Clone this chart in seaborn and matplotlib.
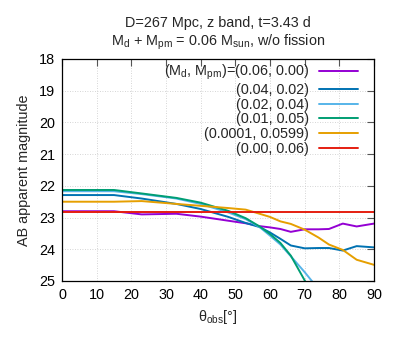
import numpy as np
import pandas as pd
import matplotlib
matplotlib.use("Agg")
import matplotlib.pyplot as plt
import seaborn as sns

# viewing angle grid [deg]
theta = [0, 15, 23, 33, 40, 48, 53, 57, 60, 63, 66, 70, 74, 77, 81, 85, 90]

# AB magnitudes (nan = off the plot)
mag_006_000 = [22.80, 22.80, 22.90, 22.88, 22.97, 23.10, 23.18, 23.27, 23.31,
               23.36, 23.45, 23.37, 23.37, 23.36, 23.19, 23.28, 23.19]
mag_004_002 = [22.29, 22.29, 22.40, 22.57, 22.73, 22.98, 23.17, 23.30, 23.47,
               23.67, 23.88, 23.97, 23.96, 23.96, 24.04, 23.90, 23.94]
mag_002_004 = [22.17, 22.17, 22.26, 22.40, 22.57, 22.84, 23.05, 23.30, 23.57,
               23.85, 24.22, 24.72, 25.26, np.nan, np.nan, np.nan, np.nan]
mag_001_005 = [22.13, 22.13, 22.24, 22.38, 22.53, 22.79, 23.02, 23.28, 23.52,
               23.80, 24.20, 24.98, 25.80, np.nan, np.nan, np.nan, np.nan]
mag_00001_00599 = [22.50, 22.50, 22.48, 22.57, 22.63, 22.70, 22.75, 22.88, 22.98,
                   23.12, 23.20, 23.38, 23.63, 23.85, 24.02, 24.33, 24.49]
mag_000_006 = [22.83] * len(theta)

labels = [r"(M$_\mathrm{d}$, M$_\mathrm{pm}$)=(0.06, 0.00)",
          "(0.04, 0.02)", "(0.02, 0.04)", "(0.01, 0.05)",
          "(0.0001, 0.0599)", "(0.00, 0.06)"]
colors = ["#9400d3", "#0072b2", "#56b4e9", "#009e73", "#e69f00", "#e51e10"]
series = [mag_006_000, mag_004_002, mag_002_004, mag_001_005,
          mag_00001_00599, mag_000_006]

FS = 10.4

sns.set_style("white")
plt.rcParams["font.family"] = ["Liberation Sans", "DejaVu Sans"]
plt.rcParams["mathtext.fontset"] = "custom"
plt.rcParams["mathtext.rm"] = "Liberation Sans"
plt.rcParams["mathtext.it"] = "Liberation Sans"
plt.rcParams["font.size"] = FS

fig = plt.figure(figsize=(3.99, 3.42), dpi=100)
ax = fig.add_axes([62 / 399, 1 - 281 / 342, 312 / 399, 222 / 342])

for lab, col, vals in zip(labels, colors, series):
    df = pd.DataFrame({"theta": theta, "mag": vals}).dropna()
    sns.lineplot(data=df, x="theta", y="mag", color=col, label=lab,
                 linewidth=1.4, ax=ax)

ax.set_xlim(0, 90)
ax.set_ylim(25, 18)
ax.set_xticks(range(0, 91, 10))
ax.set_yticks(range(18, 26))
ax.grid(True, color="#c8c8c8", linestyle=(0, (1, 2)), linewidth=0.6)
ax.tick_params(direction="in", length=5, width=0.8, top=True, right=True,
               labelsize=FS, colors="#555555", labelcolor="black", pad=5)
for s in ax.spines.values():
    s.set_color("black")
    s.set_linewidth(0.9)

ax.set_xlabel(r"θ$_\mathrm{obs}$[°]", fontsize=FS, labelpad=4)
ax.set_ylabel("AB apparent magnitude", fontsize=FS, labelpad=6)
ax.set_title("D=267 Mpc, z band, t=3.43 d\n"
             r"M$_\mathrm{d}$ + M$_\mathrm{pm}$ = 0.06 M$_\mathrm{sun}$, w/o fission",
             fontsize=FS, pad=10, linespacing=1.2)

leg = ax.legend(loc="upper right", bbox_to_anchor=((358 - 62) / 312, (281 - 63) / 222),
                markerfirst=False, frameon=False, fontsize=FS, handlelength=2.7,
                handletextpad=0.7, labelspacing=0.05, borderaxespad=0, borderpad=0)
for t in leg.get_texts():
    t.set_ha("right")

fig.savefig("out.png", dpi=100)
